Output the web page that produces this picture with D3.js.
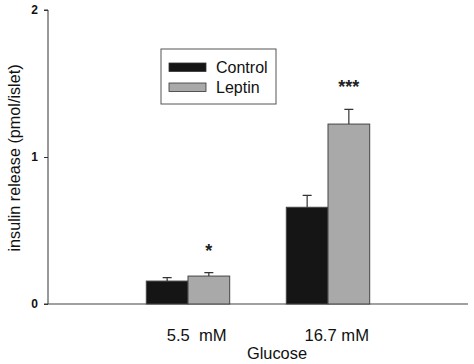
<!DOCTYPE html>
<meta charset="utf-8">
<head>
  <title>Insulin release</title>
</head>
<style>
  body { margin: 0; background: #fff; }
  text { font-family: "Liberation Sans", Arial, sans-serif; }
</style>
<body>
<div id="chart"></div>
<script src="https://d3js.org/d3.v7.min.js"></script>
<script>

// data
var categories = ["5.5  mM", "16.7 mM"];
var series = ["Control", "Leptin"];
var controlValues = [0.156, 0.658];
var controlErrors = [0.023, 0.081];
var leptinValues = [0.19, 1.224];
var leptinErrors = [0.023, 0.10];
var stars = ["*", "***"];
var yTicks = [0, 1, 2];

var colors = {"Control": "#151515", "Leptin": "#a9a9a9"};

var svg = d3.select("#chart").append("svg")
    .attr("width", 474)
    .attr("height", 364);

var mLeft = 48, mRight = 468, mTop = 10, mBottom = 304;

// categories sit at 1 and 2 on a 0..3 axis
var x = d3.scaleLinear().domain([0, 3]).range([mLeft, mRight]);
var y = d3.scaleLinear().domain([0, 2]).range([mBottom, mTop]);
var barW = 41.7;

// y axis
var yAxis = svg.append("g")
    .attr("transform", "translate(" + mLeft + ",0)")
    .call(d3.axisLeft(y).tickValues(yTicks).tickFormat(d3.format("d")).tickSize(4).tickPadding(6));
yAxis.select(".domain").attr("stroke", "#333").attr("d", "M-4," + mTop + "H0V" + mBottom + "H-4");
yAxis.selectAll(".tick line").attr("stroke", "#333");
yAxis.selectAll(".tick text")
    .style("font-size", "12px")
    .style("font-weight", "bold")
    .style("font-family", "Liberation Sans, Arial, sans-serif")
    .attr("fill", "#111");

// x baseline
svg.append("line")
    .attr("x1", mLeft).attr("x2", mRight)
    .attr("y1", y(0)).attr("y2", y(0))
    .attr("stroke", "#444").attr("stroke-width", 1.2);

var rows = categories.map(function(c, i) {
  return [
    {s: "Control", i: i, v: controlValues[i], e: controlErrors[i], off: -1},
    {s: "Leptin", i: i, v: leptinValues[i], e: leptinErrors[i], off: 0}
  ];
}).flat();

// bars
svg.selectAll("rect.bar")
    .data(rows)
    .enter()
    .append("rect")
      .attr("class", "bar")
      .attr("x", function(d) { return x(d.i + 1) + d.off * barW; })
      .attr("y", function(d) { return y(d.v); })
      .attr("width", barW)
      .attr("height", function(d) { return y(0) - y(d.v); })
      .attr("fill", function(d) { return colors[d.s]; })
      .attr("stroke", "#444")
      .attr("stroke-width", 1);

// error bars (upper only)
svg.selectAll("path.err")
    .data(rows)
    .enter()
    .append("path")
      .attr("class", "err")
      .attr("d", function(d) {
        var cx = x(d.i + 1) + d.off * barW + barW / 2;
        return "M" + cx + "," + y(d.v) + "V" + y(d.v + d.e) + "M" + (cx - 4.5) + "," + y(d.v + d.e) + "H" + (cx + 4.5);
      })
      .attr("stroke", "#333")
      .attr("stroke-width", 1.2)
      .attr("fill", "none");

// significance stars above leptin bars
svg.selectAll("text.star")
    .data(stars)
    .enter()
    .append("text")
      .attr("class", "star")
      .attr("x", function(d, i) { return x(i + 1) + barW / 2; })
      .attr("y", function(d, i) { return y(leptinValues[i] + leptinErrors[i]) - 16; })
      .attr("text-anchor", "middle")
      .style("font-size", "18px")
      .style("font-weight", "bold")
      .attr("fill", "#222")
      .text(function(d) { return d; });

// category labels
svg.selectAll("text.cat")
    .data(categories)
    .enter()
    .append("text")
      .attr("class", "cat")
      .attr("x", function(d, i) { return x(i + 1) + 8.7; })
      .attr("y", 341)
      .attr("text-anchor", "middle")
      .style("font-size", "16.6px")
      .style("white-space", "pre")
      .attr("fill", "#111")
      .text(function(d) { return d; });

svg.append("text")
    .attr("x", 277).attr("y", 359)
    .attr("text-anchor", "middle")
    .style("font-size", "16.4px")
    .attr("fill", "#111")
    .text("Glucose");

svg.append("text")
    .attr("transform", "translate(20,158) rotate(-90)")
    .attr("text-anchor", "middle")
    .style("font-size", "16.2px")
    .attr("fill", "#111")
    .text("insulin release (pmol/islet)");

// legend
var lg = svg.append("g");
lg.append("rect")
    .attr("x", 161).attr("y", 49).attr("width", 115).attr("height", 55)
    .attr("fill", "#fff").attr("stroke", "#555").attr("stroke-width", 1);
series.forEach(function(s, i) {
  lg.append("rect")
      .attr("x", 169).attr("y", 63 + i * 20).attr("width", 37).attr("height", 8.5)
      .attr("fill", colors[s]).attr("stroke", "#333").attr("stroke-width", 0.8);
  lg.append("text")
      .attr("x", 216).attr("y", 73 + i * 20)
      .style("font-size", "16px")
      .attr("fill", "#111")
      .text(s);
});

</script>
</body>
</html>
